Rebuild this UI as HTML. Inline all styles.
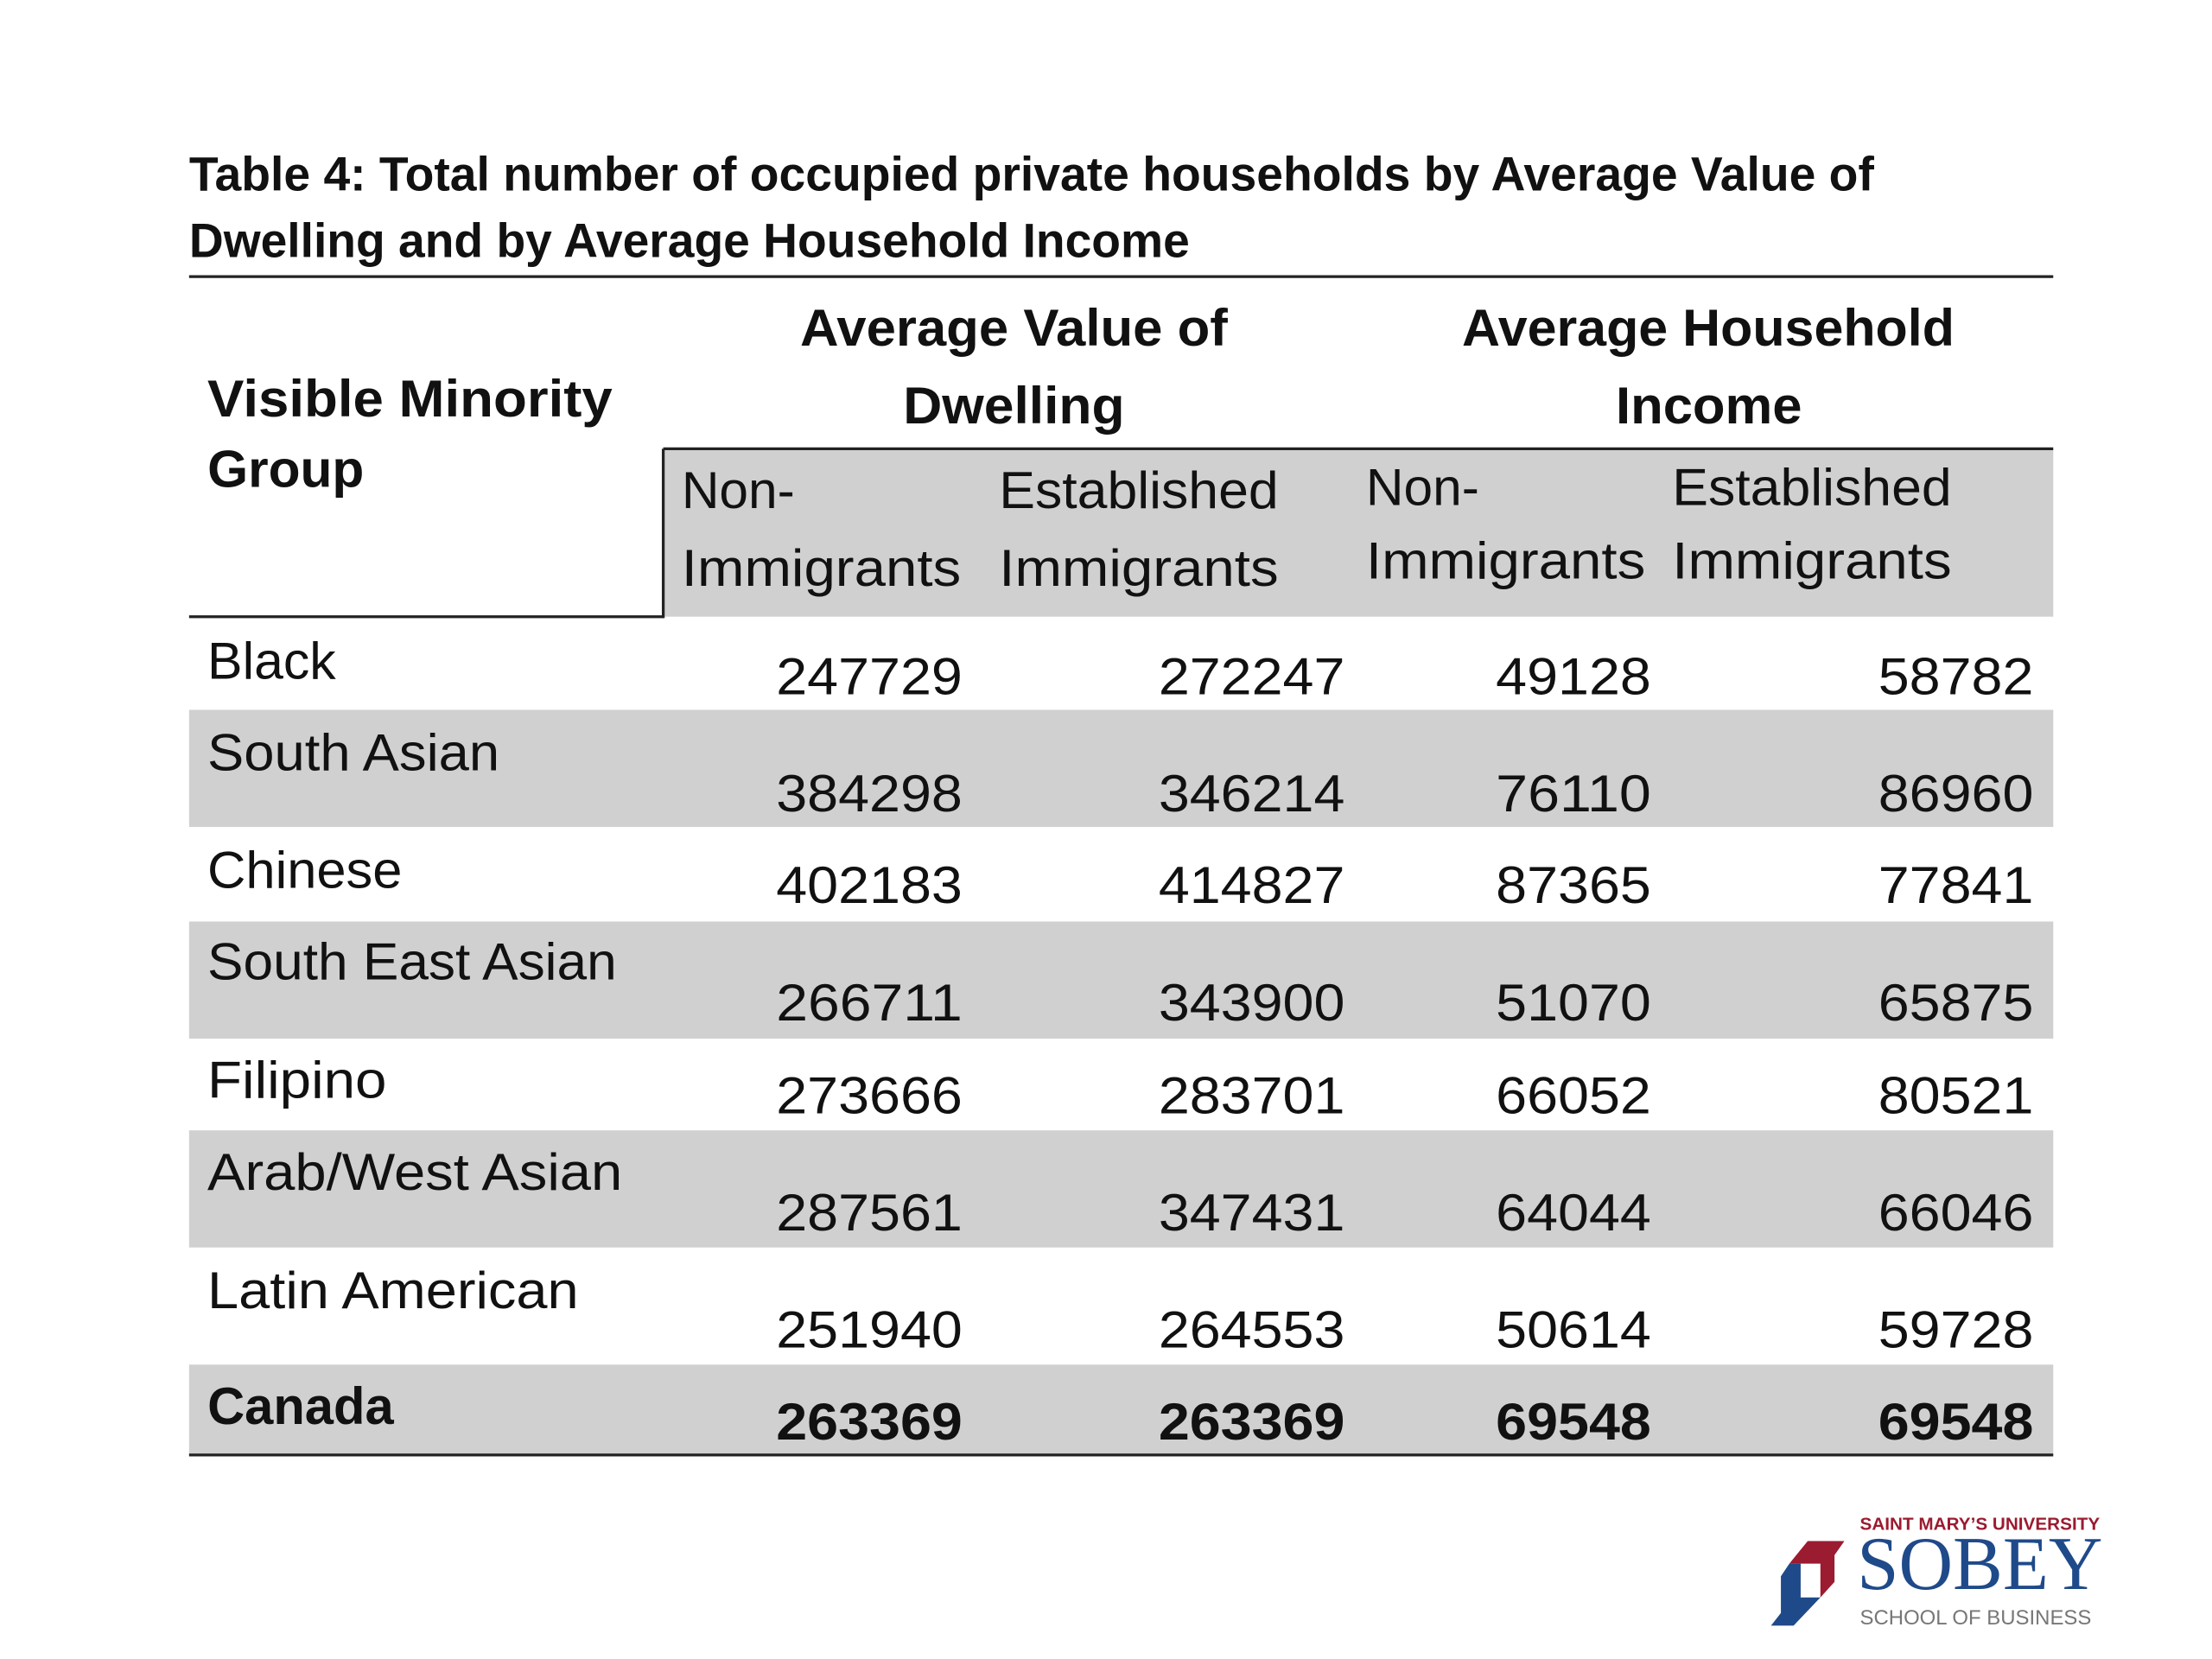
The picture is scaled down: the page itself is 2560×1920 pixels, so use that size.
<!DOCTYPE html>
<html><head><meta charset="utf-8"><style>
html,body{margin:0;padding:0;background:#fff;}
svg{display:block;}
text{font-family:"Liberation Sans",sans-serif;fill:#111;}
</style></head><body>
<svg id="s" width="2560" height="1920" viewBox="0 0 1567.5 1175.6" xmlns="http://www.w3.org/2000/svg">
<rect width="1568" height="1176" fill="#fff"/>
<g font-weight="bold">
<text x="134" y="135" font-size="34" textLength="1194" lengthAdjust="spacingAndGlyphs" font-weight="bold">Table 4: Total number of occupied private households by Average Value of</text>
<text x="134" y="182" font-size="34" textLength="709" lengthAdjust="spacingAndGlyphs" font-weight="bold">Dwelling and by Average Household Income</text>
</g>
<g id="bands"></g>
<rect x="470" y="318" width="985" height="119" fill="#d0d0d0"/>
<g stroke="#222">
<line x1="134" y1="196" x2="1455" y2="196" stroke-width="2"/>
<line x1="470" y1="318" x2="1455" y2="318" stroke-width="2"/>
<line x1="470" y1="318" x2="470" y2="438" stroke-width="2"/>
<line x1="134" y1="437" x2="470" y2="437" stroke-width="2"/>
<line x1="134" y1="1031" x2="1455" y2="1031" stroke-width="2"/>
</g>
<g font-weight="bold">
<text x="567" y="245" font-size="37" textLength="303" lengthAdjust="spacingAndGlyphs" font-weight="bold">Average Value of</text>
<text x="640" y="300" font-size="37" textLength="157" lengthAdjust="spacingAndGlyphs" font-weight="bold">Dwelling</text>
<text x="1036" y="245" font-size="37" textLength="349" lengthAdjust="spacingAndGlyphs" font-weight="bold">Average Household</text>
<text x="1145" y="300" font-size="37" textLength="132" lengthAdjust="spacingAndGlyphs" font-weight="bold">Income</text>
<text x="147" y="295" font-size="37" textLength="287" lengthAdjust="spacingAndGlyphs" font-weight="bold">Visible Minority</text>
<text x="147" y="345" font-size="37" textLength="111" lengthAdjust="spacingAndGlyphs" font-weight="bold">Group</text>
</g>
<g font-size="37">
<text x="483" y="360">Non-</text>
<text x="483" y="415" textLength="198" lengthAdjust="spacingAndGlyphs">Immigrants</text>
<text x="708" y="360" textLength="198" lengthAdjust="spacingAndGlyphs">Established</text>
<text x="708" y="415" textLength="198" lengthAdjust="spacingAndGlyphs">Immigrants</text>
<text x="968" y="358">Non-</text>
<text x="968" y="410" textLength="198" lengthAdjust="spacingAndGlyphs">Immigrants</text>
<text x="1185" y="358" textLength="198" lengthAdjust="spacingAndGlyphs">Established</text>
<text x="1185" y="410" textLength="198" lengthAdjust="spacingAndGlyphs">Immigrants</text>
</g>
<g id="rows"></g>
<g>
<polygon points="1281,1092 1307,1092 1300,1102 1300,1121 1290,1132 1290,1108 1268,1108" fill="#9b1b30"/>
<polygon points="1268,1108 1276,1108 1276,1132 1290,1132 1271,1152 1255,1152 1262,1143 1262,1117" fill="#1f4a8a"/>
<text x="1318" y="1084" font-size="12.5" font-weight="bold" textLength="170" lengthAdjust="spacingAndGlyphs" style="fill:#9b1b30">SAINT MARY’S UNIVERSITY</text>
<text x="1316" y="1126" font-size="54" textLength="174" lengthAdjust="spacingAndGlyphs" style="fill:#1f4a8a;font-family:'Liberation Serif',serif">SOBEY</text>
<text x="1318" y="1151" font-size="15" textLength="164" lengthAdjust="spacingAndGlyphs" style="fill:#777">SCHOOL OF BUSINESS</text>
</g>
</svg>
<script>
const groups=["Black","South Asian","Chinese","South East Asian","Filipino","Arab/West Asian","Latin American","Canada"];
const dwellNon=[247729,384298,402183,266711,273666,287561,251940,263369];
const dwellEst=[272247,346214,414827,343900,283701,347431,264553,263369];
const incNon=[49128,76110,87365,51070,66052,64044,50614,69548];
const incEst=[58782,86960,77841,65875,80521,66046,59728,69548];
const NS="http://www.w3.org/2000/svg";
const bandTop=[437,503,586,653,736,801,884,967,1031];
const labelBase=[481,546,629,694,778,843,927,1009];
const numBase=[492,575,640,723,789,872,955,1020];
const labelW=[91,207,138,290,127,294,263,132];
const colRight=[682,953,1170,1441];
const bands=document.getElementById('bands'),rows=document.getElementById('rows');
groups.forEach((g,i)=>{
  if(i%2===1){
    const r=document.createElementNS(NS,'rect');
    r.setAttribute('x',134);r.setAttribute('y',bandTop[i]);r.setAttribute('width',1321);r.setAttribute('height',bandTop[i+1]-bandTop[i]);r.setAttribute('fill','#d0d0d0');
    
    
    bands.appendChild(r);
  }
  const bold=(i===groups.length-1);
  const t=document.createElementNS(NS,'text');
  t.setAttribute('x',147);t.setAttribute('y',labelBase[i]);t.setAttribute('font-size',37);
  t.setAttribute('textLength',labelW[i]);t.setAttribute('lengthAdjust','spacingAndGlyphs');
  if(bold)t.setAttribute('font-weight','bold');
  t.textContent=g;
  
  
  rows.appendChild(t);
  [dwellNon[i],dwellEst[i],incNon[i],incEst[i]].forEach((v,j)=>{
    const n=document.createElementNS(NS,'text');
    const s=String(v);
    n.setAttribute('x',colRight[j]);n.setAttribute('y',numBase[i]);n.setAttribute('font-size',37);
    n.setAttribute('text-anchor','end');
    n.setAttribute('textLength',s.length*22);n.setAttribute('lengthAdjust','spacingAndGlyphs');
    if(bold)n.setAttribute('font-weight','bold');
    n.textContent=s;
    
    
    rows.appendChild(n);
  });
});
</script>
</body></html>
